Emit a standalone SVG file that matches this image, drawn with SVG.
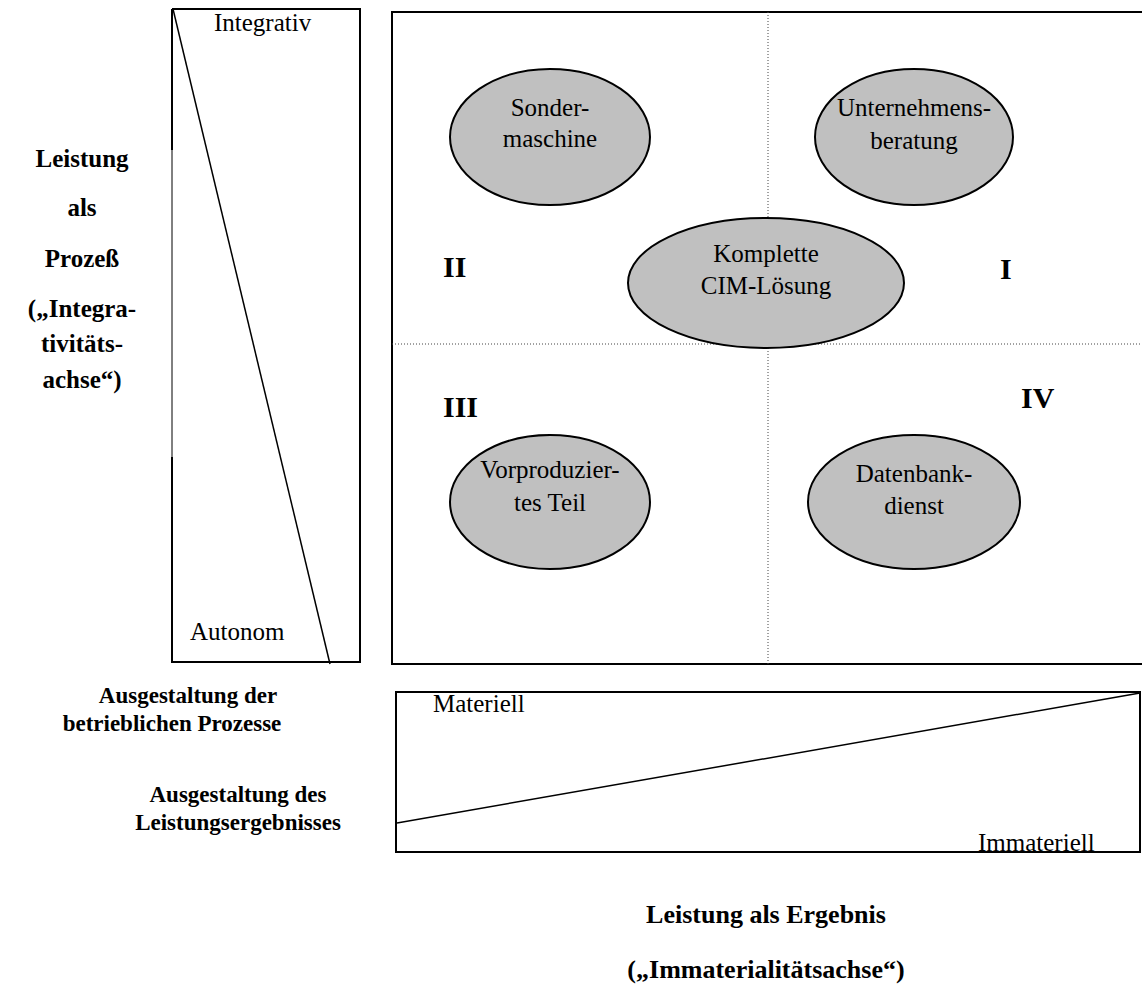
<svg xmlns="http://www.w3.org/2000/svg" width="1142" height="986" viewBox="0 0 1142 986">
<style>
.frame{fill:none;stroke:#000;stroke-width:2}
.thin{fill:none;stroke:#000;stroke-width:1.5}
.hair{fill:none;stroke:#000;stroke-width:1}
.dot{fill:none;stroke:#444;stroke-width:1;stroke-dasharray:1 2}
.ell{fill:#c0c0c0;stroke:#000;stroke-width:2}
text{font-family:"Liberation Serif","Times New Roman",serif;fill:#000}
.t{font-size:25px}
.b{font-size:25px;font-weight:bold}
.s{font-size:23px;font-weight:bold}
.r{font-size:30px;font-weight:bold}
.c{text-anchor:middle}
</style>
<g id="left-axis">
<path class="frame" d="M172 9 H360 V662 H172 V457"/>
<path class="frame" d="M172 9 V150"/>
<path class="hair" d="M172 150 V457"/>
<line class="thin" x1="173" y1="9" x2="330" y2="664"/>
<text class="t" x="214" y="31">Integrativ</text>
<text class="t" x="190" y="640">Autonom</text>
</g>
<g id="left-label">
<text class="b c" x="82" y="167">Leistung</text>
<text class="b c" x="82" y="216">als</text>
<text class="b c" x="82" y="267">Prozeß</text>
<text class="b c" x="82" y="317">(„Integra-</text>
<text class="b c" x="82" y="352">tivitäts-</text>
<text class="b c" x="82" y="388">achse“)</text>
</g>
<g id="matrix">
<path class="frame" d="M1143 12 H392 V664 H1143"/>
</g>
<g id="connectors">
<line class="dot" x1="768" y1="12" x2="768" y2="664"/>
<line class="dot" x1="392" y1="344" x2="1142" y2="344"/>
</g>
<g id="quadrant-labels">
<text class="r" x="443" y="277">II</text>
<text class="r" x="1000" y="279">I</text>
<text class="r" x="443" y="417">III</text>
<text class="r" x="1021" y="408">IV</text>
</g>
<g id="node-sondermaschine">
<ellipse class="ell" cx="550" cy="137" rx="100" ry="68"/>
<text class="t c" x="550" y="116">Sonder-</text>
<text class="t c" x="550" y="147">maschine</text>
</g>
<g id="node-unternehmensberatung">
<ellipse class="ell" cx="914" cy="137" rx="99" ry="68"/>
<text class="t c" x="914" y="116">Unternehmens-</text>
<text class="t c" x="914" y="149">beratung</text>
</g>
<g id="node-cim">
<ellipse class="ell" cx="766" cy="283" rx="138" ry="65"/>
<text class="t c" x="766" y="262">Komplette</text>
<text class="t c" x="766" y="294">CIM-Lösung</text>
</g>
<g id="node-vorproduziert">
<ellipse class="ell" cx="550" cy="502" rx="100" ry="67"/>
<text class="t c" x="550" y="478">Vorproduzier-</text>
<text class="t c" x="550" y="511">tes Teil</text>
</g>
<g id="node-datenbankdienst">
<ellipse class="ell" cx="914" cy="502" rx="106" ry="67"/>
<text class="t c" x="914" y="482">Datenbank-</text>
<text class="t c" x="914" y="514">dienst</text>
</g>
<g id="bottom-axis">
<rect class="frame" x="396" y="692" width="744" height="160"/>
<line class="thin" x1="397" y1="823" x2="1140" y2="693"/>
<text class="t" x="433" y="712">Materiell</text>
<text class="t" x="978" y="851">Immateriell</text>
</g>
<g id="bottom-labels">
<text class="s c" x="188" y="703">Ausgestaltung der</text>
<text class="s c" x="172" y="731">betrieblichen Prozesse</text>
<text class="s c" x="238" y="802">Ausgestaltung des</text>
<text class="s c" x="238" y="830">Leistungsergebnisses</text>
<text class="b c" x="766" y="923" style="font-size:26px">Leistung als Ergebnis</text>
<text class="b c" x="766" y="978" style="font-size:26px">(„Immaterialitätsachse“)</text>
</g>
</svg>
